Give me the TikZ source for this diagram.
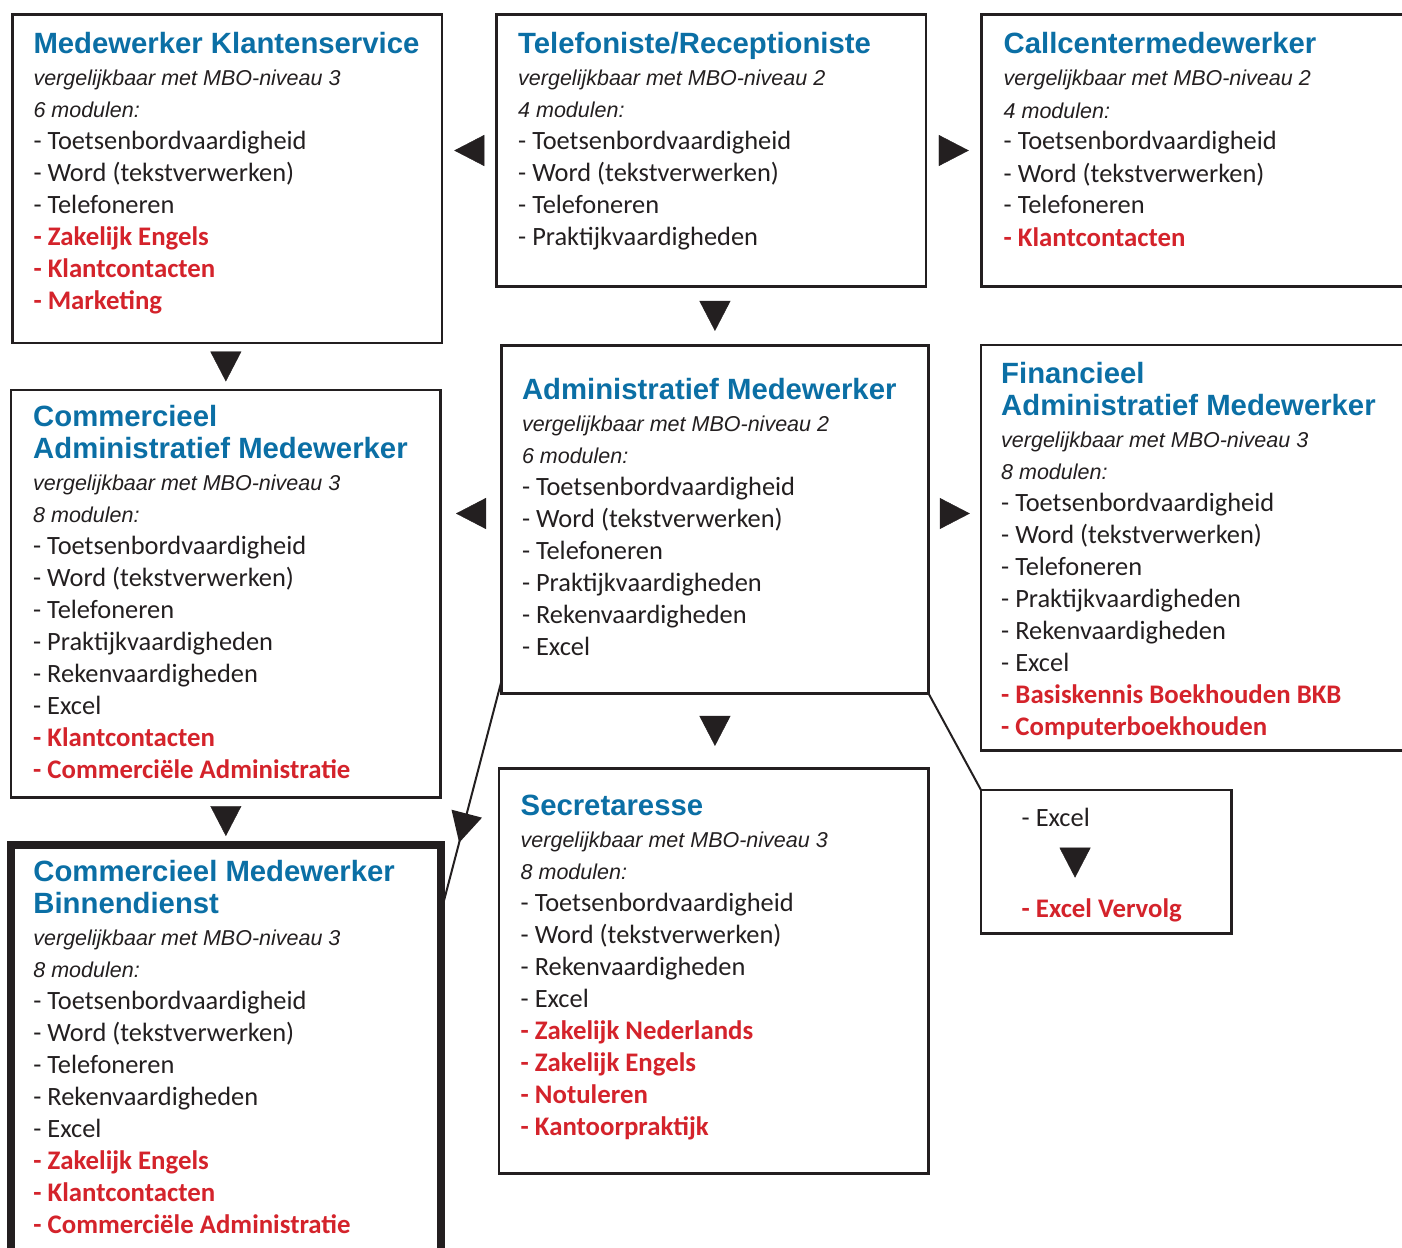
\documentclass[tikz,border=0pt]{standalone}
\usepackage{fontspec}
\setmainfont{Carlito}
\newfontfamily\kopfont{Liberation Sans}
\usetikzlibrary{positioning,arrows.meta,decorations.markings}

\definecolor{vakblauw}{RGB}{11,111,165}
\definecolor{vakrood}{RGB}{212,35,43}
\definecolor{inkt}{RGB}{35,31,32}

\newcommand{\vaktitel}[1]{{\kopfont\bfseries\fontsize{29.3}{32}\selectfont\spaceskip=0pt\xspaceskip=0pt\color{vakblauw}#1}}
\newcommand{\vakniveau}[1]{{\kopfont\itshape\fontsize{21.5}{32}\selectfont\spaceskip=0pt\xspaceskip=0pt#1}}
\newcommand{\vakextra}[1]{{\bfseries\fontsize{26.8}{32}\selectfont\spaceskip=0pt\xspaceskip=0pt\color{vakrood}#1}}

\tikzset{
    vak box/.style={
        rectangle,
        draw=inkt,
        line width=2.6pt,
        inner sep=0pt,
        outer sep=0pt,
        anchor=north west
    },
    vak regel/.style={
        anchor=base west,
        inner sep=0pt,
        text=inkt,
        font=\fontsize{26.4}{32}\selectfont,
        execute at begin node={\spaceskip=0pt\xspaceskip=0pt}
    },
    vak tekst/.style={
        vak regel,
        text width=420pt,
        align=left
    },
    pijl/.style={
        color=inkt,
        decoration={markings,
            mark=at position #1 with {\arrow[xshift=15pt]{Triangle[length=30pt,width=31pt]}}},
        postaction={decorate}
    },
    pijl/.default=0.5,
    lijn/.style={draw=inkt, line width=2pt}
}

\begin{document}
\begin{tikzpicture}[x=1pt,y=-1pt]
\path[use as bounding box, fill=white] (0,0) rectangle (1402,1247);

% the course boxes
\node[vak box, minimum width=429.7pt, minimum height=328.5pt] (mk) at (12.3,14.5) {};
\node[vak box, minimum width=429.5pt, minimum height=272pt] (tr) at (496.5,14.5) {};
\node[vak box, minimum width=460pt, minimum height=272pt] (cc) at (981.5,14.5) {};
\node[vak box, minimum width=427.3pt, minimum height=348.2pt] (am) at (501.3,345.4) {};
\node[vak box, minimum width=460pt, minimum height=405.7pt] (fam) at (981,345) {};
\node[vak box, minimum width=250.7pt, minimum height=143.3pt] (xl) at (981,790) {};
\node[vak box, minimum width=429.7pt, minimum height=407.3pt] (cam) at (11,390) {};
\node[vak box, minimum width=429.3pt, minimum height=405pt] (sec) at (499,768.3) {};
\node[vak box, line width=8pt, minimum width=429.6pt, minimum height=450pt] (cmb) at (11.2,844.8) {};

% the texts in the boxes
\node[below right=38.8pt and 21pt of mk.north west, vak tekst] (mk-tekst) {%
    \vaktitel{Medewerker Klantenservice}\\
    \vakniveau{vergelijkbaar met MBO-niveau 3}\\
    \vakniveau{6 modulen:}\\
    - Toetsenbordvaardigheid\\
    - Word (tekstverwerken)\\
    - Telefoneren\\
    \vakextra{- Zakelijk Engels}\\
    \vakextra{- Klantcontacten}\\
    \vakextra{- Marketing}};
\node[below right=38.8pt and 21.5pt of tr.north west, vak tekst] (tr-tekst) {%
    \vaktitel{Telefoniste/Receptioniste}\\
    \vakniveau{vergelijkbaar met MBO-niveau 2}\\
    \vakniveau{4 modulen:}\\
    - Toetsenbordvaardigheid\\
    - Word (tekstverwerken)\\
    - Telefoneren\\
    - Praktijkvaardigheden};
\node[below right=39.5pt and 22pt of cc.north west, vak tekst] (cc-tekst) {%
    \vaktitel{Callcentermedewerker}\\
    \vakniveau{vergelijkbaar met MBO-niveau 2}\\
    \vakniveau{4 modulen:}\\
    - Toetsenbordvaardigheid\\
    - Word (tekstverwerken)\\
    - Telefoneren\\
    \vakextra{- Klantcontacten}};
\node[below right=54.2pt and 20.5pt of am.north west, vak tekst] (am-tekst) {%
    \vaktitel{Administratief Medewerker}\\
    \vakniveau{vergelijkbaar met MBO-niveau 2}\\
    \vakniveau{6 modulen:}\\
    - Toetsenbordvaardigheid\\
    - Word (tekstverwerken)\\
    - Telefoneren\\
    - Praktijkvaardigheden\\
    - Rekenvaardigheden\\
    - Excel};
\node[below right=38.3pt and 20pt of fam.north west, vak tekst] (fam-tekst) {%
    \vaktitel{Financieel}\\
    \vaktitel{Administratief Medewerker}\\
    \vakniveau{vergelijkbaar met MBO-niveau 3}\\
    \vakniveau{8 modulen:}\\
    - Toetsenbordvaardigheid\\
    - Word (tekstverwerken)\\
    - Telefoneren\\
    - Praktijkvaardigheden\\
    - Rekenvaardigheden\\
    - Excel\\
    \vakextra{- Basiskennis Boekhouden BKB}\\
    \vakextra{- Computerboekhouden}};
\node[below right=36pt and 22pt of cam.north west, vak tekst] (cam-tekst) {%
    \vaktitel{Commercieel}\\
    \vaktitel{Administratief Medewerker}\\
    \vakniveau{vergelijkbaar met MBO-niveau 3}\\
    \vakniveau{8 modulen:}\\
    - Toetsenbordvaardigheid\\
    - Word (tekstverwerken)\\
    - Telefoneren\\
    - Praktijkvaardigheden\\
    - Rekenvaardigheden\\
    - Excel\\
    \vakextra{- Klantcontacten}\\
    \vakextra{- Commerciële Administratie}};
\node[below right=47.4pt and 21.5pt of sec.north west, vak tekst] (sec-tekst) {%
    \vaktitel{Secretaresse}\\
    \vakniveau{vergelijkbaar met MBO-niveau 3}\\
    \vakniveau{8 modulen:}\\
    - Toetsenbordvaardigheid\\
    - Word (tekstverwerken)\\
    - Rekenvaardigheden\\
    - Excel\\
    \vakextra{- Zakelijk Nederlands}\\
    \vakextra{- Zakelijk Engels}\\
    \vakextra{- Notuleren}\\
    \vakextra{- Kantoorpraktijk}};
\node[below right=36.9pt and 22pt of cmb.north west, vak tekst] (cmb-tekst) {%
    \vaktitel{Commercieel Medewerker}\\
    \vaktitel{Binnendienst}\\
    \vakniveau{vergelijkbaar met MBO-niveau 3}\\
    \vakniveau{8 modulen:}\\
    - Toetsenbordvaardigheid\\
    - Word (tekstverwerken)\\
    - Telefoneren\\
    - Rekenvaardigheden\\
    - Excel\\
    \vakextra{- Zakelijk Engels}\\
    \vakextra{- Klantcontacten}\\
    \vakextra{- Commerciële Administratie}};
\node[below right=36.7pt and 40.5pt of xl.north west, vak regel] (xl-a) {- Excel};
\node[below right=127.3pt and 40.5pt of xl.north west, vak regel] (xl-b) {\vakextra{- Excel Vervolg}};

% arrows between the boxes
\path[pijl] (tr.west) -- (tr.west -| mk.east);
\path[pijl] (tr.east) -- (tr.east -| cc.west);
\path[pijl] (am.north |- tr.south) -- (am.north);
\path[pijl] (cam.north |- mk.south) -- (cam.north);
\path[pijl] ([yshift=6pt]am.west) -- ([yshift=6pt]am.west -| cam.east);
\path[pijl] ([yshift=6pt]am.east) -- ([yshift=6pt]am.east -| fam.west);
\path[pijl] (am.south) -- (am.south |- sec.north);
\path[pijl] (cam.south) -- (cam.south |- cmb.north);
\path[pijl] ([xshift=-15pt]xl-a.south east) -- ([xshift=-15pt]xl-a.south east |- xl-b.north);

% slanted lines
\draw[lijn, pijl=0.634] ([yshift=12pt]am.south west) -- ([yshift=-68pt]cmb.north east);
\draw[lijn] (am.south east) -- (xl.north west);

\end{tikzpicture}
\end{document}
